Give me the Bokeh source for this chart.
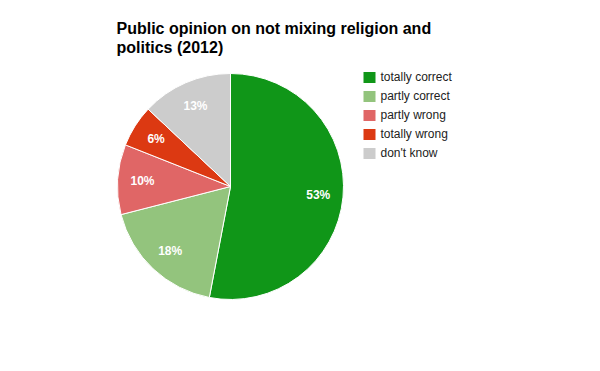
import math
from bokeh.plotting import figure
from bokeh.models import ColumnDataSource, Range1d
from bokeh.core.properties import value
from bokeh.embed import file_html
from bokeh.resources import INLINE

# ---- data ----
categories = ["totally correct", "partly correct", "partly wrong", "totally wrong", "don't know"]
values = [53, 18, 10, 6, 13]
colors = ["#109618", "#93c47d", "#e06666", "#dc3912", "#cccccc"]
title_lines = ["Public opinion on not mixing religion and", "politics (2012)"]

W, H = 584, 355
PAGE_H = 371

def Y(sy):
    return PAGE_H - sy

p = figure(width=W, height=H, output_backend="svg", toolbar_location=None,
           x_range=Range1d(0, W), y_range=Range1d(PAGE_H - H, PAGE_H),
           min_border=0, outline_line_color=None)
p.axis.visible = False
p.grid.visible = False
p.background_fill_color = "white"
p.border_fill_color = "white"

# ---- pie ----
cx, cy, r = 230, Y(186), 113
total = float(sum(values))
starts, ends, lx, ly, labels = [], [], [], [], []
cum = 0.0
for v in values:
    a0 = math.pi / 2 - 2 * math.pi * cum / total
    cum += v
    a1 = math.pi / 2 - 2 * math.pi * cum / total
    starts.append(a0)
    ends.append(a1)
    mid = (a0 + a1) / 2
    lx.append(cx + 0.78 * r * math.cos(mid))
    ly.append(cy + 0.78 * r * math.sin(mid))
    labels.append(f"{round(100 * v / total)}%")

src = ColumnDataSource(dict(start=starts, end=ends, color=colors, lx=lx, ly=ly, label=labels))
p.wedge(x=cx, y=cy, radius=r, start_angle="start", end_angle="end", direction="clock",
        fill_color="color", line_color="white", line_width=1, source=src)
p.text(x="lx", y="ly", text="label", source=src, text_color="white",
       text_font=value("Liberation Sans"), text_font_style="bold", text_font_size="12px",
       text_align="center", text_baseline="middle")

# ---- title ----
p.text(x=[116, 116], y=[Y(28), Y(47)], text=title_lines, text_color="#000000",
       text_font=value("Liberation Sans"), text_font_style="bold", text_font_size="16px",
       text_align="left", text_baseline="alphabetic")

# ---- legend ----
n = len(categories)
leg_y = [Y(77 + 19 * i) for i in range(n)]
p.rect(x=[369] * n, y=leg_y, width=12, height=11, fill_color=colors, line_color=None)
p.text(x=[380] * n, y=[v + 0.5 for v in leg_y], text=categories, text_color="#222222",
       text_font=value("Liberation Sans"), text_font_size="12px",
       text_align="left", text_baseline="middle")

open("out.html", "w").write(file_html(p, INLINE))
